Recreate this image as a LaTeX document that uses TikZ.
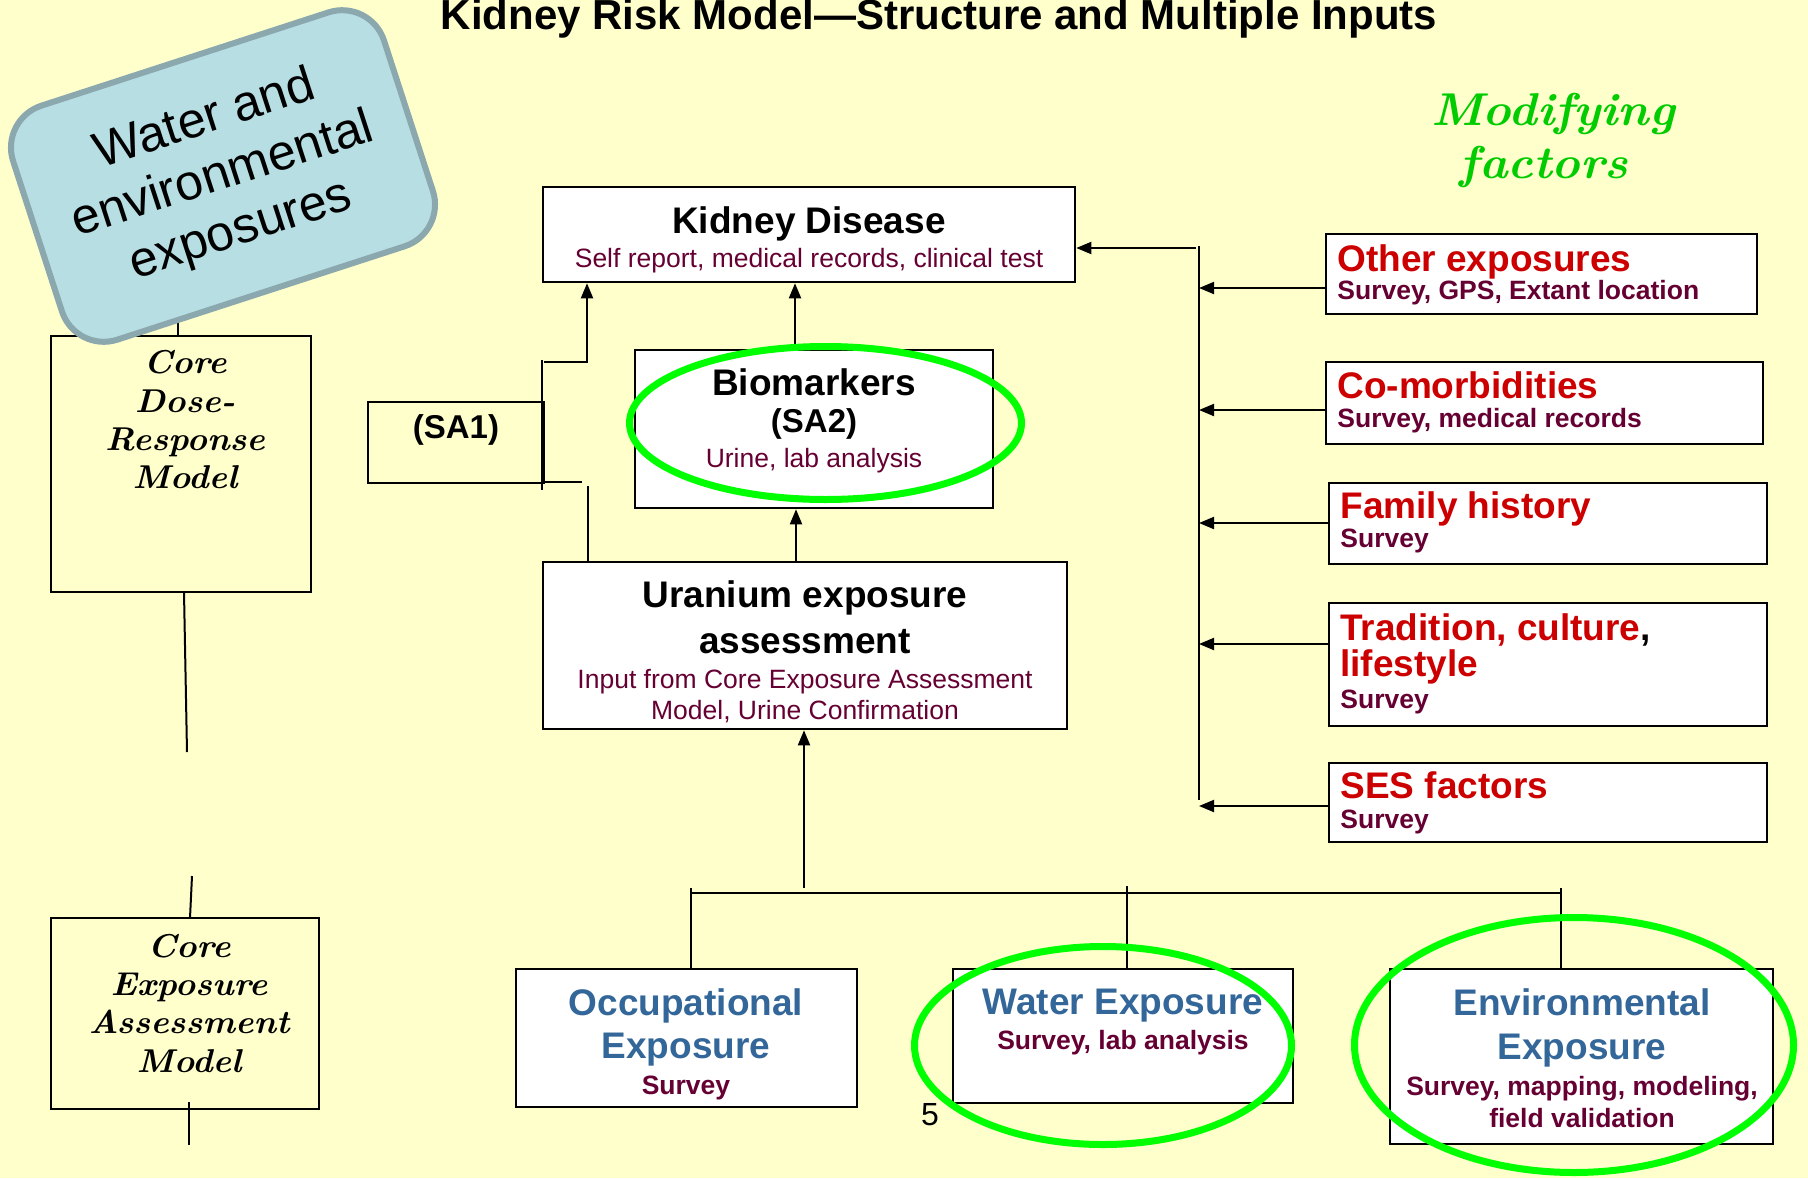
\documentclass[tikz,border=0pt]{standalone}
\usepackage{fontspec}
\usepackage{graphicx}
\newfontfamily\arial{Liberation Sans}
\usetikzlibrary{arrows.meta,fit,shapes.geometric}
\definecolor{bg}{HTML}{FFFFCC}
\definecolor{kmaroon}{HTML}{660033}
\definecolor{kred}{HTML}{CC0000}
\definecolor{kblue}{HTML}{336699}
\definecolor{ringgreen}{HTML}{00FF00}
\definecolor{modgreen}{HTML}{00CC00}
\definecolor{wfill}{HTML}{B7DEE3}
\definecolor{wdraw}{HTML}{8AA8AE}
\begin{document}
\begin{tikzpicture}[x=0.5pt,y=-0.5pt,
  every node/.style={inner sep=0pt},
  box/.style={draw=black,line width=1.3pt,fill=white,inner sep=0pt},
  obox/.style={draw=black,line width=1.3pt,inner sep=0pt},
  ln/.style={line width=1pt,draw=black},
  arr/.style={ln,-{Triangle[length=7.5pt,width=6pt]}},
  ring/.style={ellipse,draw=ringgreen,line width=3.5pt,inner sep=0pt},
  ttl/.style={anchor=base,font=\arial\bfseries\fontsize{18.5pt}{22pt}\selectfont},
  sub/.style={anchor=base,text=kmaroon,font=\arial\fontsize{13.25pt}{16pt}\selectfont},
  bsub/.style={anchor=base,text=kmaroon,font=\arial\bfseries\fontsize{13.25pt}{16pt}\selectfont},
  sa/.style={anchor=base,font=\arial\bfseries\fontsize{16.5pt}{20pt}\selectfont},
  cal/.style={anchor=base,font=\bfseries\itshape\fontsize{16.5pt}{20pt}\selectfont},
]
\fill[bg] (0,0) rectangle (1808,1178);
\useasboundingbox (0,0) rectangle (1808,1178);

% title
\node[anchor=base,font=\arial\bfseries\fontsize{21pt}{25pt}\selectfont] (title) at (939,29)
  {Kidney Risk Model—Structure and Multiple Inputs};

% left column boxes
\node[obox,fit={(51,336) (311,592)}] (cdr) {};
\node[obox,fit={(51,918) (319,1109)}] (cea) {};
\node[cal] (cdr1) at (185,373) {\scalebox{1.05}[1]{Core}};
\node[cal] (cdr2) at (185,412) {\scalebox{1.05}[1]{Dose-}};
\node[cal] (cdr3) at (185,450) {\scalebox{1.05}[1]{Response}};
\node[cal] (cdr4) at (185,488) {\scalebox{1.05}[1]{Model}};
\node[cal] (cea1) at (189,957) {\scalebox{1.05}[1]{Core}};
\node[cal] (cea2) at (189,995) {\scalebox{1.05}[1]{Exposure}};
\node[cal] (cea3) at (189,1033) {\scalebox{1.05}[1]{Assessment}};
\node[cal] (cea4) at (189,1072) {\scalebox{1.05}[1]{Model}};

\coordinate (c1) at (178,300);
\draw[ln] (c1) -- (c1 |- cdr.north);
\coordinate (c2a) at (184,592);
\coordinate (c2b) at (187,752);
\draw[ln] (c2a) -- (c2b);
\coordinate (c3a) at (192,876);
\coordinate (c3b) at (190,918);
\draw[ln] (c3a) -- (c3b);
\coordinate (c4a) at (189,1102);
\coordinate (c4b) at (189,1145);
\draw[ln] (c4a) -- (c4b);

% water and environmental exposures
\node[draw=wdraw,fill=wfill,line width=3pt,rounded corners=22pt,rotate=18,
  minimum width=195pt,minimum height=123pt,align=center,
  font=\arial\fontsize{25pt}{29pt}\selectfont] (wee) at (223,176)
  {Water and\\environmental\\exposures};

% modifying factors
\node[anchor=base,text=modgreen,font=\bfseries\itshape\fontsize{23pt}{28pt}\selectfont] (mod1) at (1553,125) {\scalebox{1.05}[1]{Modifying}};
\node[anchor=base,text=modgreen,font=\bfseries\itshape\fontsize{23pt}{28pt}\selectfont] (mod2) at (1544,178) {\scalebox{1.05}[1]{factors}};

% central boxes
\node[box,fit={(543,187) (1075,282)}] (kd) {};
\node[ttl] (kdt) at (809,233) {Kidney Disease};
\node[sub] (kds) at (809,267) {Self report, medical records, clinical test};

\node[box,fit={(635,350) (993,508)}] (bio) {};
\node[ttl] (biot) at (814,395) {Biomarkers};
\node[sa] (biosa) at (814,432) {(SA2)};
\node[sub] (bios) at (814,467) {Urine, lab analysis};

\node[obox,fit={(368,402) (544,483)}] (sa1) {};
\node[sa] (sa1t) at (456,438) {(SA1)};

\node[box,fit={(543,562) (1067,729)}] (ur) {};
\node[ttl] (urt1) at (805,607) {Uranium exposure};
\node[ttl] (urt2) at (805,653) {assessment};
\node[sub] (urs1) at (805,688) {Input from Core Exposure Assessment};
\node[sub] (urs2) at (805,719) {Model, Urine Confirmation};

% right boxes
\node[box,fit={(1326,234) (1757,314)}] (oth) {};
\node[ttl,anchor=base west,text=kred] (otht) at (1337,271) {Other exposures};
\node[bsub,anchor=base west] (oths) at (1337,299) {Survey, GPS, Extant location};

\node[box,fit={(1326,362) (1763,444)}] (com) {};
\node[ttl,anchor=base west,text=kred] (comt) at (1337,398) {Co-morbidities};
\node[bsub,anchor=base west] (coms) at (1337,427) {Survey, medical records};

\node[box,fit={(1329,483) (1767,564)}] (fam) {};
\node[ttl,anchor=base west,text=kred] (famt) at (1340,518) {Family history};
\node[bsub,anchor=base west] (fams) at (1340,547) {Survey};

\node[box,fit={(1329,603) (1767,726)}] (tra) {};
\node[ttl,anchor=base west,text=kred] (trat1) at (1340,640) {Tradition, culture\textcolor{black}{,}};
\node[ttl,anchor=base west,text=kred] (trat2) at (1340,676) {lifestyle};
\node[bsub,anchor=base west] (tras) at (1340,708) {Survey};

\node[box,fit={(1329,763) (1767,842)}] (ses) {};
\node[ttl,anchor=base west,text=kred] (sest) at (1340,798) {SES factors};
\node[bsub,anchor=base west] (sess) at (1340,828) {Survey};

% bottom boxes
\node[box,fit={(516,969) (857,1107)}] (occ) {};
\node[ttl,text=kblue] (occt1) at (686,1015) {Occupational};
\node[ttl,text=kblue] (occt2) at (686,1058) {Exposure};
\node[bsub] (occs) at (686,1094) {Survey};

\node[box,fit={(953,969) (1293,1103)}] (wat) {};
\node[ttl,text=kblue] (watt) at (1123,1014) {Water Exposure};
\node[bsub] (wats) at (1123,1049) {Survey, lab analysis};

\node[box,fit={(1390,969) (1773,1144)}] (env) {};
\node[ttl,text=kblue] (envt1) at (1582,1015) {Environmental};
\node[ttl,text=kblue] (envt2) at (1582,1059) {Exposure};
\node[bsub] (envs1) at (1582,1095) {Survey, mapping, modeling,};
\node[bsub] (envs2) at (1582,1127) {field validation};

\node[anchor=base,font=\arial\fontsize{16pt}{19pt}\selectfont] (pg) at (930,1125) {5};

% SA1 bracket connectors
\coordinate (s1) at (542,360);
\coordinate (s2) at (542,490);
\draw[ln] (s1) -- (s2);
\coordinate (s3) at (544,362);
\coordinate (s3x) at (587,362);
\draw[arr] (s3) -- (s3x) -- (s3x |- kd.south);
\coordinate (s4) at (544,482);
\coordinate (s5) at (582,482);
\draw[ln] (s4) -- (s5);
\coordinate (s6) at (588,486);
\draw[ln] (s6 |- ur.north) -- (s6);

% vertical arrows
\coordinate (a1) at (795,300);
\draw[arr] (a1 |- bio.north) -- (a1 |- kd.south);
\coordinate (a2) at (796,530);
\draw[arr] (a2 |- ur.north) -- (a2 |- bio.south);
\coordinate (a3) at (804,888);
\draw[arr] (a3) -- (a3 |- ur.south);

% bottom bus
\coordinate (bl) at (691,893);
\coordinate (br) at (1562,893);
\draw[ln] (bl) -- (br);
\coordinate (v1) at (691,888);
\coordinate (v2) at (1127,886);
\coordinate (v3) at (1561,888);
\draw[ln] (v1) -- (v1 |- occ.north);
\draw[ln] (v2) -- (v2 |- wat.north);
\draw[ln] (v3) -- (v3 |- env.north);

% right bus
\coordinate (rt) at (1199,246);
\coordinate (rb) at (1199,800);
\draw[ln] (rt) -- (rb);
\coordinate (k0) at (1196,248);
\draw[arr] (k0) -- (k0 -| kd.east);
\coordinate (b1) at (1199,288);
\coordinate (b2) at (1199,410);
\coordinate (b3) at (1199,523);
\coordinate (b4) at (1199,644);
\coordinate (b5) at (1199,806);
\draw[arr] (b1 -| oth.west) -- (b1);
\draw[arr] (b2 -| com.west) -- (b2);
\draw[arr] (b3 -| fam.west) -- (b3);
\draw[arr] (b4 -| tra.west) -- (b4);
\draw[arr] (b5 -| ses.west) -- (b5);

% green highlight rings
\node[ring,minimum width=196pt,minimum height=76.5pt] (bioring) at (825.5,423) {};
\node[ring,minimum width=188.5pt,minimum height=99pt] (watring) at (1103,1045.5) {};
\node[ring,minimum width=219.5pt,minimum height=127.5pt] (envring) at (1574,1045) {};
\end{tikzpicture}
\end{document}
